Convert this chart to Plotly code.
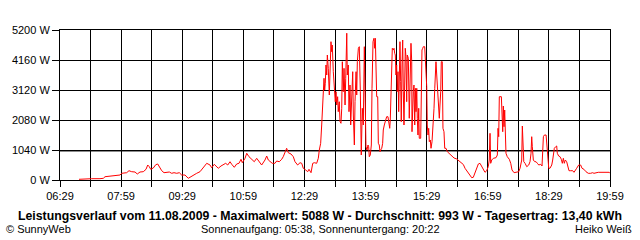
import plotly.graph_objects as go

# time of day in minutes after midnight, power in W
minute_of_day = [
 417.0,423.3,435.7,447.9,452.8,455.3,462.6,470.0,477.4,479.9,487.2,490.6,494.6,499.5,502.8,506.8,511.7,515.7,518.2,520.5,
 522.6,526.4,530.0,532.9,535.2,538.8,542.2,546.1,550.0,553.5,556.9,560.9,564.7,568.2,573.1,577.9,582.9,590.3,595.2,600.1,
 605.1,609.9,612.4,616.2,619.8,622.1,626.1,629.5,633.0,636.0,639.4,641.9,645.7,649.2,652.6,655.6,657.5,661.5,664.0,667.3,
 671.3,675.1,678.7,682.1,686.0,690.9,693.4,695.8,698.3,701.6,705.6,708.1,711.9,715.5,717.8,720.4,722.8,725.2,729.2,732.6,
 735.1,739.0,742.5,745.0,747.3,750.9,753.8,755.7,758.7,761.2,763.5,767.0,769.4,770.9,772.9,774.4,775.9,776.8,777.8,778.8,
 779.7,780.7,781.8,782.7,784.1,785.6,786.6,788.1,789.1,790.0,791.5,793.0,794.4,795.5,796.5,797.9,798.8,800.3,801.4,802.8,
 803.9,804.8,806.2,807.3,808.8,809.8,811.3,812.1,813.6,814.6,816.1,817.1,818.6,820.1,821.0,822.5,823.5,825.0,826.0,826.9,
 828.4,829.8,831.3,832.7,834.2,835.7,837.2,838.2,839.6,841.1,842.6,843.6,844.5,846.0,847.5,848.5,850.0,851.4,852.5,853.4,
 854.4,855.4,856.9,857.8,859.2,860.3,861.3,862.8,864.2,865.1,866.6,868.1,870.1,872.0,873.5,874.6,875.4,876.5,877.5,878.4,
 879.9,880.9,881.9,882.8,883.8,884.8,885.7,886.8,887.8,888.7,889.7,890.7,891.6,892.7,893.7,894.6,895.6,896.6,897.5,898.5,
 899.6,900.5,902.0,903.4,904.5,905.9,907.0,907.4,909.3,910.3,911.4,912.3,913.3,914.4,915.2,916.2,917.3,918.1,920.2,921.1,
 922.1,923.2,924.1,926.1,927.0,928.0,929.1,929.9,931.0,932.0,932.9,934.4,935.4,936.9,937.9,938.8,939.8,940.9,941.7,942.7,
 943.8,944.7,945.7,946.8,947.6,948.6,949.7,950.5,952.0,953.0,954.5,955.6,957.5,959.4,962.3,965.9,969.3,973.3,977.1,980.7,
 983.0,985.5,988.9,992.8,995.3,997.7,1000.2,1002.7,1005.1,1007.5,1010.0,1012.4,1014.9,1017.4,1019.7,1021.2,1022.3,1023.3,1024.8,1027.2,
 1031.1,1033.1,1034.1,1035.1,1036.0,1039.0,1040.0,1041.0,1041.9,1042.9,1043.9,1044.8,1045.8,1047.7,1050.7,1052.8,1054.7,1057.7,1061.6,1064.6,
 1066.5,1068.0,1069.0,1069.9,1070.9,1072.0,1073.9,1076.4,1079.3,1081.2,1082.7,1083.7,1084.6,1086.1,1088.2,1090.1,1092.0,1094.1,1097.0,1098.9,
 1100.9,1102.4,1104.9,1106.3,1107.4,1108.8,1110.6,1113.2,1114.6,1115.5,1117.0,1119.0,1120.5,1121.4,1123.4,1125.4,1127.3,1128.8,1130.3,1131.7,
 1133.2,1135.2,1137.2,1138.6,1141.1,1144.1,1146.0,1147.9,1149.9,1152.9,1155.8,1157.8,1160.6,1163.6,1167.0,1170.5,1173.4,1175.4,1178.3,1181.7,
 1197.9,1199.0]

power_w = [
 24,35,45,45,59,114,139,139,173,232,253,322,288,277,208,277,288,371,520,461,
 371,416,530,555,461,322,253,253,277,232,253,232,253,173,173,59,139,232,288,440,
 579,520,426,544,461,406,485,544,579,520,634,544,440,555,579,718,600,752,926,808,
 718,634,752,634,520,693,832,693,634,579,579,659,634,718,808,946,1099,946,901,808,
 634,520,600,579,406,347,288,371,253,579,600,579,752,1040,1272,1907,2486,2888,3526,3120,
 3352,3987,3640,4333,3872,2947,3987,4795,4448,4680,3755,2947,2714,3061,2600,2888,2368,2714,2021,1966,
 2486,4101,3061,3872,2600,3526,5088,3640,3987,2368,3293,1907,3061,3755,2253,1213,2714,3755,2947,4101,
 4566,4621,3061,867,2486,1907,4621,3526,1154,1040,1213,1154,808,867,1213,3179,4795,4913,4566,4913,
 3872,2888,2888,1272,1213,981,1040,1099,1272,1733,1907,2021,2194,2194,2021,1792,2080,3179,3293,4566,
 4507,4566,4392,4333,3640,3987,3061,3755,2368,3640,4795,3408,2021,3987,4853,3061,1907,3293,4566,4275,
 2714,4333,4219,2139,3061,4739,4101,1674,3061,3293,1907,3179,2368,3179,2139,1560,2486,1446,1446,3179,
 4507,4566,4621,4621,4219,3526,3235,1907,1560,1792,1328,1387,1099,1328,1674,2139,2486,3179,3640,4101,
 3640,3179,3061,2368,2139,2600,3061,4101,4101,1792,1674,1099,1099,981,926,849,763,728,659,607,
 537,406,288,139,80,94,232,406,555,579,485,347,267,322,461,693,1619,579,693,752,
 773,867,1792,1501,2888,2888,2080,1674,2565,1848,2427,1619,926,808,718,579,347,253,267,288,
 406,634,693,1872,1272,634,579,461,520,634,926,1501,1154,693,634,634,579,520,544,485,
 1501,1560,1560,1040,520,406,406,520,693,926,1099,1154,1179,926,832,808,718,579,752,579,
 693,634,406,322,322,322,267,322,406,520,520,406,371,288,232,232,253,232,253,267,
 267,232]

average_w = 993
y_ticks = [0, 1040, 2080, 3120, 4160, 5200]
y_tick_labels = ["0 W", "1040 W", "2080 W", "3120 W", "4160 W", "5200 W"]
x_grid = list(range(389, 1200, 45))
x_tick_labels = ["06:29", "07:59", "09:29", "10:59", "12:29", "13:59", "15:29", "16:59", "18:29", "19:59"]

title_text = "Leistungsverlauf vom 11.08.2009 - Maximalwert: 5088 W - Durchschnitt: 993 W - Tagesertrag: 13,40 kWh"
left_text = "© SunnyWeb"
mid_text = "Sonnenaufgang: 05:38, Sonnenuntergang: 20:22"
right_text = "Heiko Weiß"

x_text = []
for i in range(len(x_grid)):
    x_text.append(x_tick_labels[i // 2] if i % 2 == 0 else "")

FONT = "Liberation Sans, Arial, sans-serif"

fig = go.Figure()
fig.add_trace(go.Scatter(x=minute_of_day, y=power_w, mode="lines",
                         line=dict(color="#ff0000", width=1), hoverinfo="skip"))

fig.add_shape(type="line", xref="x", yref="y", x0=x_grid[0], x1=x_grid[-1],
              y0=average_w, y1=average_w, line=dict(color="#8c8c8c", width=1.5), layer="below")

T, B = 30, 180
def py(p):
    return (B - p) / (B - T)

fig.update_layout(
    width=640, height=240,
    margin=dict(l=60, r=30, t=30, b=60),
    paper_bgcolor="white", plot_bgcolor="white",
    showlegend=False,
    font=dict(family=FONT, size=11, color="black"),
    xaxis=dict(range=[x_grid[0], x_grid[-1]], tickmode="array", tickvals=x_grid, ticktext=x_text,
               showgrid=True, gridcolor="black", gridwidth=1, zeroline=False,
               ticks="outside", ticklen=6, tickcolor="black", tickwidth=1,
               showline=True, linecolor="black", linewidth=1, mirror=True,
               tickfont=dict(size=11, family=FONT)),
    yaxis=dict(range=[0, 5200], tickmode="array", tickvals=y_ticks, ticktext=y_tick_labels,
               showgrid=True, gridcolor="black", gridwidth=1, zeroline=False,
               ticks="outside", ticklen=7, tickcolor="black", tickwidth=1,
               showline=True, linecolor="black", linewidth=1, mirror=True,
               tickfont=dict(size=11, family=FONT)),
    annotations=[
        dict(text="<b>" + title_text + "</b>", xref="paper", yref="paper", x=(320 - 60) / 550, y=py(216),
             xanchor="center", yanchor="middle", showarrow=False, font=dict(size=12.3, family=FONT)),
        dict(text=left_text, xref="paper", yref="paper", x=(4 - 60) / 550, y=py(229),
             xanchor="left", yanchor="middle", showarrow=False, font=dict(size=11, family=FONT)),
        dict(text=mid_text, xref="paper", yref="paper", x=(320 - 60) / 550, y=py(229),
             xanchor="center", yanchor="middle", showarrow=False, font=dict(size=11, family=FONT)),
        dict(text=right_text, xref="paper", yref="paper", x=(634 - 60) / 550, y=py(229),
             xanchor="right", yanchor="middle", showarrow=False, font=dict(size=11, family=FONT)),
    ],
)

fig.write_html("out.html")
